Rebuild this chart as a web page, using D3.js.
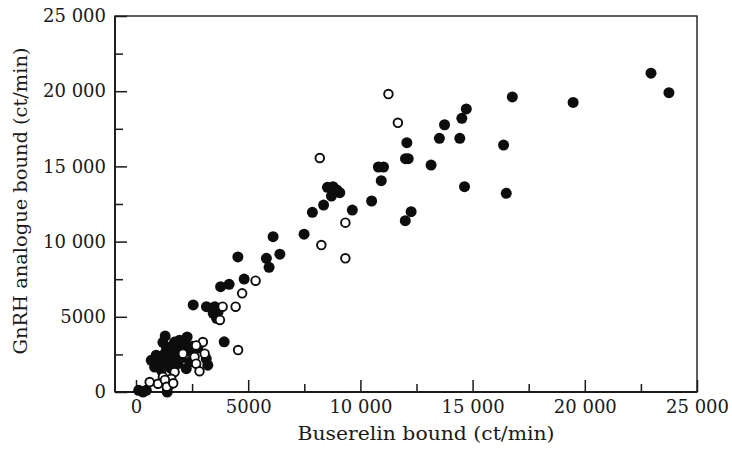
<!DOCTYPE html>
<html>
<head>
<meta charset="utf-8">
<script src="https://cdn.jsdelivr.net/npm/d3@7"></script>
<style>
  html, body { margin: 0; padding: 0; background: #fff; }
  text { font-family: "DejaVu Serif", serif; fill: #1a1a1a; }
</style>
</head>
<body>
<svg id="chart" width="732" height="449"></svg>
<script>
// ---- Data ----
const xTitle = "Buserelin bound (ct/min)";
const yTitle = "GnRH analogue bound (ct/min)";

const majorTicks = [0, 5000, 10000, 15000, 20000, 25000];
const minorTicks = [2500, 7500, 12500, 17500, 22500];
const xTickLabels = ["0", "5000", "10 000", "15 000", "20 000", "25 000"];
const yTickLabels = ["0", "5000", "10 000", "15 000", "20 000", "25 000"];

// filled circles: [buserelin bound, GnRH analogue bound]
const filledPoints = [
  [22950,21200],[23750,19900],[19480,19250],[16770,19620],[14720,18820],[14520,18200],
  [13750,17770],[12070,16580],[13520,16870],[14430,16870],[16380,16420],[12010,15510],
  [12130,15510],[13150,15090],[10800,14960],[11030,14960],[10930,14050],[14640,13650],
  [16500,13210],[12260,11990],[12000,11390],
  [10500,12700],[8530,13610],[8780,13650],[8950,13430],[9080,13250],[8710,13030],
  [8360,12430],[7860,11950],[9640,12100],[6110,10330],[7490,10490],[6410,9160],
  [5810,8890],[5930,8290],[4540,8980],[3770,7000],[4150,7160],[4820,7510],
  [3140,5670],[3510,5670],[3660,5340],[3440,5230],[3590,4900],[2550,5790],[3930,3340],
  [1300,3720],[2280,3660],[1720,3320],[1940,3440],[2020,3110],[1350,2990],[1280,2550],
  [1420,2440],[1650,2770],[680,2110],[830,1660],[1050,1880],[1130,1440],[1420,1880],
  [1570,1550],[3200,1780],[3130,2210],[2760,2930],[120,110],[310,0],[460,110],[1390,0],
  [1870,2550],[2390,2000],[1870,1880],[1570,2210],[1050,2210],[2390,2710],[2240,1550],
  [1600,3000],[2150,3250],[2500,3050],[1200,3300],[900,2450],[2000,2250]
];

// open circles
const openPoints = [
  [11250,19810],[11670,17900],[8190,15560],[9330,11260],[8260,9770],[9330,8890],
  [5330,7400],[4730,6560],[3860,5670],[4440,5670],[3740,4790],[4550,2790],
  [2980,3320],[2680,3100],[2090,2550],[2610,2330],[3060,2550],[2680,1880],[2830,1380],
  [1720,1330],[1200,1000],[610,660],[980,550],[1500,450],[1570,880],[1290,800],
  [1370,350],[1660,580]
];

// ---- Layout ----
const svg = d3.select("#chart");
const frame = { left: 115, right: 697, top: 16, bottom: 392 };

const x = d3.scaleLinear().domain([0, 25000]).range([136, 697]);
const y = d3.scaleLinear().domain([0, 25000]).range([392, 16]);

const ink = "#1a1a1a";

// frame
svg.append("rect")
  .attr("x", frame.left).attr("y", frame.top)
  .attr("width", frame.right - frame.left)
  .attr("height", frame.bottom - frame.top)
  .attr("fill", "none").attr("stroke", ink).attr("stroke-width", 1.4);
svg.append("line").attr("x1", frame.left).attr("x2", frame.left)
  .attr("y1", frame.top).attr("y2", frame.bottom)
  .attr("stroke", ink).attr("stroke-width", 1.8);
svg.append("line").attr("x1", frame.left).attr("x2", frame.right)
  .attr("y1", frame.bottom).attr("y2", frame.bottom)
  .attr("stroke", ink).attr("stroke-width", 1.8);

// x axis (major, inward ticks)
const xAxis = svg.append("g").attr("transform", `translate(0,${frame.bottom})`)
  .call(d3.axisBottom(x).tickValues(majorTicks).tickSize(-12).tickPadding(8)
    .tickFormat((d, i) => xTickLabels[i]));
xAxis.select(".domain").remove();
xAxis.selectAll(".tick line").attr("stroke", ink).attr("stroke-width", 1.5);
xAxis.selectAll(".tick text").attr("font-size", 18).attr("font-family", "DejaVu Serif").attr("fill", ink);

const xMinor = svg.append("g").attr("transform", `translate(0,${frame.bottom})`)
  .call(d3.axisBottom(x).tickValues(minorTicks).tickSize(-8).tickFormat(""));
xMinor.select(".domain").remove();
xMinor.selectAll(".tick line").attr("stroke", ink).attr("stroke-width", 1.5);

// y axis
const yAxis = svg.append("g").attr("transform", `translate(${frame.left},0)`)
  .call(d3.axisLeft(y).tickValues(majorTicks).tickSize(-12).tickPadding(9)
    .tickFormat((d, i) => yTickLabels[i]));
yAxis.select(".domain").remove();
yAxis.selectAll(".tick line").attr("stroke", ink).attr("stroke-width", 1.5);
yAxis.selectAll(".tick text").attr("font-size", 18).attr("font-family", "DejaVu Serif").attr("fill", ink);

const yMinor = svg.append("g").attr("transform", `translate(${frame.left},0)`)
  .call(d3.axisLeft(y).tickValues(minorTicks).tickSize(-8).tickFormat(""));
yMinor.select(".domain").remove();
yMinor.selectAll(".tick line").attr("stroke", ink).attr("stroke-width", 1.5);

// titles
svg.append("text")
  .attr("x", 426).attr("y", 440)
  .attr("text-anchor", "middle")
  .attr("font-size", 19)
  .attr("textLength", 257).attr("lengthAdjust", "spacingAndGlyphs")
  .text(xTitle);

svg.append("text")
  .attr("transform", "translate(27,201) rotate(-90)")
  .attr("text-anchor", "middle")
  .attr("font-size", 19)
  .attr("textLength", 307).attr("lengthAdjust", "spacingAndGlyphs")
  .text(yTitle);

// points
svg.append("g").selectAll("circle").data(filledPoints).join("circle")
  .attr("cx", d => x(d[0])).attr("cy", d => y(d[1]))
  .attr("r", 5.5).attr("fill", "#0d0d0d");

svg.append("g").selectAll("circle").data(openPoints).join("circle")
  .attr("cx", d => x(d[0])).attr("cy", d => y(d[1]))
  .attr("r", 4.3).attr("fill", "#fff").attr("stroke", "#0d0d0d").attr("stroke-width", 1.9);
</script>
</body>
</html>
